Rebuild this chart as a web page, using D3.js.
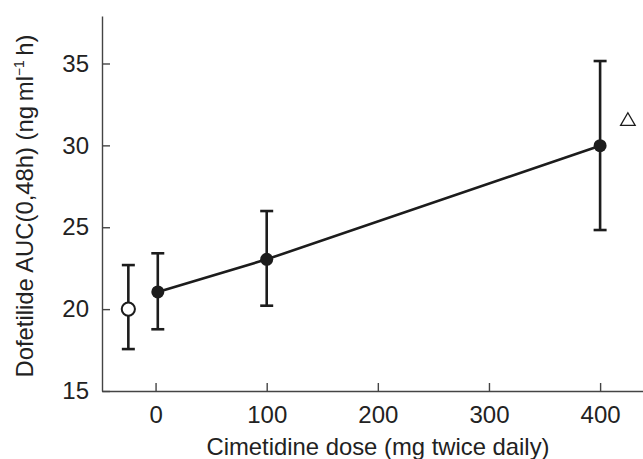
<!DOCTYPE html>
<html>
<head>
<meta charset="utf-8">
<script src="https://cdn.jsdelivr.net/npm/d3@7"></script>
<style>
  html, body { margin: 0; padding: 0; background: #fff; }
  svg { display: block; }
  text { font-family: "Liberation Sans", Arial, Helvetica, sans-serif; fill: #222; }
</style>
</head>
<body>
<svg id="chart" width="643" height="459"></svg>
<script>
// Tick values
const xTicks = [0, 100, 200, 300, 400];
const yTicks = [15, 20, 25, 30, 35];

// Cimetidine arms: plotted dose position, mean AUC and error-bar limits
const cimDose = [2, 100, 400];
const aucMean = [21.05, 23.04, 29.98];
const aucLow  = [18.77, 20.21, 24.83];
const aucHigh = [23.41, 25.99, 35.15];

// Reference arm (open circle), drawn left of zero
const refDose = [-24.5];
const refMean = [20.0];
const refLow  = [17.56];
const refHigh = [22.69];

// Significance marker (open triangle)
const markDose = [425];
const markAuc  = [31.6];

const svg = d3.select("#chart");

const x = d3.scaleLinear().domain([-48.2, 438.6]).range([102, 643]);
const y = d3.scaleLinear().domain([15, 37.9]).range([391, 16]);

// Axes
const gx = svg.append("g").attr("class", "xaxis").attr("transform", "translate(0,391)")
  .call(d3.axisBottom(x).tickValues(xTicks).tickSizeInner(-8).tickSizeOuter(0).tickPadding(15));
const gy = svg.append("g").attr("class", "yaxis").attr("transform", "translate(102,0)")
  .call(d3.axisLeft(y).tickValues(yTicks).tickSizeInner(-8).tickSizeOuter(0).tickPadding(13));

[gx, gy].forEach(g => {
  g.select(".domain").attr("stroke", "#444").attr("stroke-width", 1.4);
  g.selectAll(".tick line").attr("stroke", "#444").attr("stroke-width", 1.4);
  g.selectAll(".tick text").attr("font-size", 24)
    .style("font-family", "'Liberation Sans', Arial, sans-serif").attr("fill", "#222");
});

// Axis titles
svg.append("text")
  .attr("x", 378)
  .attr("y", 455)
  .attr("text-anchor", "middle")
  .attr("font-size", 24)
  .attr("textLength", 343)
  .attr("lengthAdjust", "spacingAndGlyphs")
  .text("Cimetidine dose (mg twice daily)");

const yl = svg.append("text")
  .attr("transform", "translate(33,206) rotate(-90)")
  .attr("text-anchor", "middle")
  .attr("font-size", 24.5);
yl.append("tspan").text("Dofetilide AUC(0,48h) (ng\u2009ml");
yl.append("tspan").attr("font-size", 14).attr("dy", -9).text("\u22121");
yl.append("tspan").attr("dy", 9).text("\u2009h)");
yl.attr("textLength", 343).attr("lengthAdjust", "spacingAndGlyphs");

const ink = "#1c1c1c";
const cap = 6.5;

// Error bars
function errorBars(xs, lo, hi) {
  const g = svg.append("g").attr("stroke", ink).attr("stroke-width", 2.6);
  xs.forEach((d, i) => {
    g.append("line").attr("x1", x(d)).attr("x2", x(d)).attr("y1", y(lo[i])).attr("y2", y(hi[i]));
    g.append("line").attr("x1", x(d) - cap).attr("x2", x(d) + cap).attr("y1", y(lo[i])).attr("y2", y(lo[i]));
    g.append("line").attr("x1", x(d) - cap).attr("x2", x(d) + cap).attr("y1", y(hi[i])).attr("y2", y(hi[i]));
  });
}
errorBars(refDose, refLow, refHigh);
errorBars(cimDose, aucLow, aucHigh);

// Connecting line through the cimetidine arms
const pts = cimDose.map((d, i) => [d, aucMean[i]]);
svg.append("path")
  .datum(pts)
  .attr("fill", "none")
  .attr("stroke", ink)
  .attr("stroke-width", 2.6)
  .attr("d", d3.line().x(d => x(d[0])).y(d => y(d[1])));

// Filled points
svg.selectAll("circle.filled").data(pts).join("circle")
  .attr("class", "filled")
  .attr("cx", d => x(d[0])).attr("cy", d => y(d[1]))
  .attr("r", 6.5).attr("fill", ink);

// Open reference point
svg.selectAll("circle.open").data(refDose.map((d, i) => [d, refMean[i]])).join("circle")
  .attr("class", "open")
  .attr("cx", d => x(d[0])).attr("cy", d => y(d[1]))
  .attr("r", 6.6).attr("fill", "#fff").attr("stroke", ink).attr("stroke-width", 2);

// Open triangle marker
svg.selectAll("path.tri").data(markDose.map((d, i) => [d, markAuc[i]])).join("path")
  .attr("class", "tri")
  .attr("transform", d => `translate(${x(d[0])},${y(d[1]) + 2})`)
  .attr("d", d3.symbol(d3.symbolTriangle, 92))
  .attr("fill", "#fff").attr("stroke", ink).attr("stroke-width", 1.3);
</script>
</body>
</html>
